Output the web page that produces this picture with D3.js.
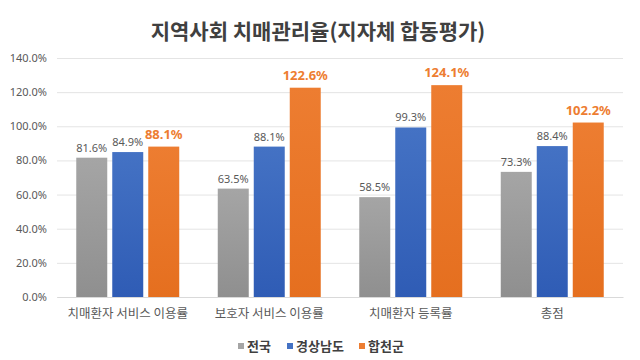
<!DOCTYPE html>
<html><head><meta charset="utf-8">
<script src="https://cdn.jsdelivr.net/npm/d3@7"></script>
<style>
html,body{margin:0;padding:0;background:#fff;}
svg{display:block;font-family:"Noto Sans CJK KR","Noto Sans",sans-serif;}
</style></head>
<body>
<svg id="chart" width="640" height="360"></svg>
<script>
const categories = ["치매환자 서비스 이용률", "보호자 서비스 이용률", "치매환자 등록률", "총점"];
const seriesNames = ["전국", "경상남도", "합천군"];
const national = [81.6, 63.5, 58.5, 73.3];
const gyeongnam = [84.9, 88.1, 99.3, 88.4];
const hapcheon = [88.1, 122.6, 124.1, 102.2];
const yTicks = [0, 20, 40, 60, 80, 100, 120, 140];
const title = "지역사회 치매관리율(지자체 합동평가)";

(function () {
const seriesValues = [national, gyeongnam, hapcheon];
const colors = ["#a5a5a5", "#4472c4", "#ed7d31"];
const colorsDark = ["#8f8f8f", "#2f5cb5", "#e56f1f"];

const svg = d3.select("#chart");
const defs = svg.append("defs");
colors.forEach((c, i) => {
  const g = defs.append("linearGradient").attr("id", "g" + i)
    .attr("x1", 0).attr("y1", 0).attr("x2", 0).attr("y2", 1);
  g.append("stop").attr("offset", "0%").attr("stop-color", c);
  g.append("stop").attr("offset", "100%").attr("stop-color", colorsDark[i]);
});

const mLeft = 57, mRight = 623, mTop = 58, mBottom = 297;
const y = d3.scaleLinear().domain([0, 140]).range([mBottom, mTop]);
const x = d3.scaleBand().domain(categories).range([mLeft, mRight]).padding(0);
const xs = d3.scaleBand().domain(seriesNames).range([0, x.bandwidth()])
  .paddingInner(0.139).paddingOuter(0.535);

// title
svg.append("text").attr("x", 318).attr("y", 39).attr("text-anchor", "middle")
  .attr("font-size", 21).attr("font-weight", "bold").attr("fill", "#404040")
  .text(title);

// gridlines
const yAxis = d3.axisLeft(y).tickValues(yTicks).tickSize(-(mRight - mLeft))
  .tickFormat(d => d.toFixed(1) + "%").tickPadding(10);
const ga = svg.append("g").attr("transform", `translate(${mLeft},0)`).call(yAxis);
ga.select(".domain").remove();
ga.selectAll(".tick line").attr("stroke", "#e4e4e4").attr("stroke-width", 1);
ga.selectAll(".tick text").attr("font-size", 11).attr("fill", "#595959")
  .attr("font-family", "'Noto Sans','Noto Sans CJK KR',sans-serif");

// bars
const data = [];
categories.forEach((c, ci) => seriesNames.forEach((s, si) => {
  data.push({c, s, si, v: seriesValues[si][ci]});
}));
svg.append("g").selectAll("rect").data(data).join("rect")
  .attr("x", d => x(d.c) + xs(d.s))
  .attr("width", xs.bandwidth())
  .attr("y", d => y(d.v))
  .attr("height", d => y(0) - y(d.v))
  .attr("fill", d => `url(#g${d.si})`);

// labels
svg.append("g").selectAll("text").data(data).join("text")
  .attr("x", d => x(d.c) + xs(d.s) + xs.bandwidth() / 2)
  .attr("y", d => y(d.v) - (d.si === 2 ? 8 : 6))
  .attr("text-anchor", "middle")
  .attr("font-family", "'Noto Sans','Noto Sans CJK KR',sans-serif")
  .attr("font-size", d => d.si === 2 ? 13 : 11)
  .attr("font-weight", d => d.si === 2 ? "bold" : "normal")
  .attr("fill", d => d.si === 2 ? "#ed7d31" : "#595959")
  .text(d => d.v.toFixed(1) + "%");

// x axis labels
const xAxis = d3.axisBottom(x).tickSize(0).tickPadding(12);
const gx = svg.append("g").attr("transform", `translate(0,${mBottom})`).call(xAxis);
gx.select(".domain").attr("stroke", "#d9d9d9");
gx.selectAll(".tick text").attr("font-size", 12.5).attr("fill", "#595959")
  .attr("font-family", "'Noto Sans CJK KR',sans-serif");

// legend
const legendX = [238, 287, 359];
const lg = svg.append("g").selectAll("g").data(seriesNames).join("g")
  .attr("transform", (d, i) => `translate(${legendX[i]},346)`);
lg.append("rect").attr("x", 0).attr("y", -3).attr("width", 6).attr("height", 6)
  .attr("fill", (d, i) => colors[i]);
lg.append("text").attr("x", 9).attr("y", 4.5).attr("font-size", 13)
  .attr("font-weight", "bold").attr("fill", "#404040").text(d => d);
})();
</script>
</body></html>
